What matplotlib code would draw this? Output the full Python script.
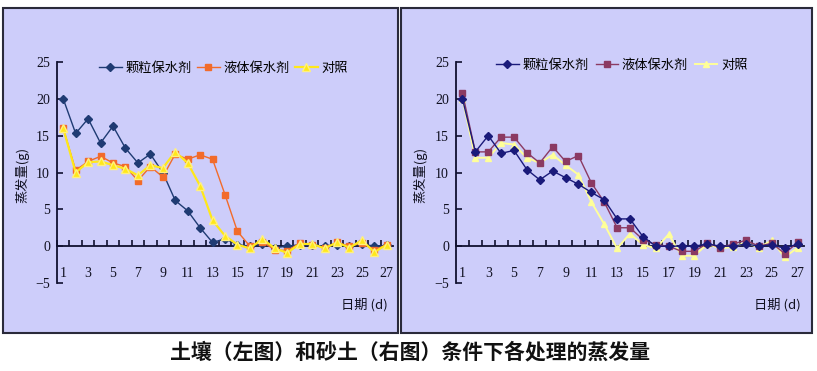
import matplotlib
matplotlib.use("Agg")
import matplotlib.pyplot as plt
from matplotlib.patches import Rectangle

plt.rcParams['font.family'] = ['Noto Sans CJK SC', 'DejaVu Sans']

days = list(range(1, 28))
day_labels = [str(d) for d in range(1, 28, 2)]
series_names = ["颗粒保水剂", "液体保水剂", "对照"]

# left: soil
soil_granular = [20.0, 15.3, 17.3, 14.0, 16.3, 13.3, 11.3, 12.5, 10.0, 6.2, 4.8, 2.5, 0.5, 1.0,
                 0.2, 0.0, 0.3, -0.2, 0.0, 0.2, 0.1, 0.0, 0.2, 0.0, 0.3, 0.0, 0.1]
soil_liquid = [16.0, 10.3, 11.5, 12.2, 11.3, 10.8, 8.9, 10.8, 9.4, 12.5, 11.8, 12.4, 11.8, 7.0,
               2.0, 0.0, 0.6, -0.5, -0.6, 0.4, 0.2, -0.2, 0.5, 0.0, 0.4, -0.5, 0.2]
soil_control = [16.0, 10.0, 11.4, 11.5, 11.0, 10.5, 9.6, 11.0, 10.6, 12.8, 11.3, 8.2, 3.5, 1.4,
                0.2, -0.3, 1.0, -0.3, -0.9, 0.3, 0.3, -0.3, 0.5, -0.2, 0.8, -0.8, 0.2]

# right: sand
sand_granular = [20.0, 12.8, 15.0, 12.6, 13.0, 10.4, 9.0, 10.2, 9.3, 8.4, 7.3, 6.3, 3.7, 3.7,
                 1.3, 0.0, 0.0, 0.0, 0.0, 0.3, 0.0, 0.0, 0.3, 0.0, 0.2, -0.3, 0.3]
sand_liquid = [20.8, 12.8, 12.8, 14.8, 14.8, 12.7, 11.3, 13.5, 11.5, 12.3, 8.6, 6.0, 2.5, 2.5,
               0.9, 0.2, 0.0, -0.7, -0.7, 0.4, -0.2, 0.3, 0.8, 0.0, 0.4, -1.0, 0.5]
sand_control = [20.0, 12.0, 12.0, 14.0, 13.8, 12.0, 11.3, 12.4, 11.0, 9.7, 6.0, 3.0, -0.3, 1.7,
                0.2, -0.3, 1.6, -1.3, -1.3, 0.3, -0.3, -0.1, 0.5, -0.2, 0.8, -1.5, -0.2]

W, H = 817, 371
bg = '#CDCDFA'
fig = plt.figure(figsize=(W / 100, H / 100), dpi=100)
fig.patch.set_facecolor('white')


def fx(px):
    return px / W


def fy(py):
    return 1 - py / H


# panel boxes
for x0, x1 in [(3, 398), (401, 812)]:
    fig.patches.append(Rectangle((fx(x0), fy(333)), fx(x1 - x0), (333 - 8) / H,
                                 transform=fig.transFigure, facecolor=bg,
                                 edgecolor='#2a2a3a', linewidth=1.5, zorder=-5))


def setup(ax, ylab_x, date_x):
    ax.set_facecolor('none')
    ax.set_zorder(2)
    ax.set_xlim(0.5, 27.5)
    ax.set_ylim(-5, 25)
    for s in ['top', 'right']:
        ax.spines[s].set_visible(False)
    ax.spines['bottom'].set_position(('data', 0))
    ax.spines['bottom'].set_color('#101030')
    ax.spines['left'].set_color('#101030')
    ax.spines['bottom'].set_linewidth(1.3)
    ax.spines['left'].set_linewidth(1.3)
    ax.set_yticks(range(-5, 26, 5))
    ax.set_xticks(range(1, 28, 2))
    ax.set_xticklabels(day_labels)
    ax.set_xticks([d + 0.5 for d in range(0, 27)], minor=True)
    ax.tick_params(axis='x', which='major', length=0, pad=15, labelsize=10)
    ax.tick_params(axis='x', which='minor', direction='in', length=4, width=1.2, color='#101030')
    ax.tick_params(axis='y', direction='in', length=4, width=1.2, color='#101030', pad=5, labelsize=10)
    for lab in ax.get_xticklabels() + ax.get_yticklabels():
        lab.set_family('Liberation Serif')
        lab.set_color('#101020')
    fig.text(fx(ylab_x), fy(175), "蒸发量(g)", rotation=90, ha='center', va='center',
             fontsize=9.5, color='#101020')
    fig.text(fx(date_x), fy(305), "日期 (d)", ha='center', va='center', fontsize=9.5,
             color='#101020')


# left chart
ax1 = fig.add_axes([fx(57), fy(283), fx(393 - 57), (283 - 62) / H])
setup(ax1, 22, 364)
ax1.plot(days, soil_granular, color='#1F3B73', marker='D', markersize=4, lw=1,
         label=series_names[0], zorder=3)
ax1.plot(days, soil_liquid, color='#F26B2A', marker='s', markersize=4.5, lw=1,
         label=series_names[1], zorder=4)
ax1.plot(days, soil_control, color='#FFE81A', marker='^', markersize=6, lw=1.6,
         markeredgecolor='#FFF080', label=series_names[2], zorder=5)
ax1.legend(loc='center left', bbox_to_anchor=(fx(94), fy(68)), bbox_transform=fig.transFigure,
           ncol=3, frameon=False, fontsize=9.5, handlelength=1.7, handletextpad=0.3,
           columnspacing=0.4, borderaxespad=0)

# right chart
ax2 = fig.add_axes([fx(456), fy(283), fx(804 - 456), (283 - 62) / H])
setup(ax2, 420, 777)
ax2.plot(days, sand_granular, color='#1A1A7A', marker='D', markersize=4, lw=1,
         label=series_names[0], zorder=5)
ax2.plot(days, sand_liquid, color='#8B3A62', marker='s', markersize=4.5, lw=1,
         label=series_names[1], zorder=4)
ax2.plot(days, sand_control, color='#FFFF99', marker='^', markersize=5, lw=1.4,
         label=series_names[2], zorder=3)
ax2.legend(loc='center left', bbox_to_anchor=(fx(491), fy(65)), bbox_transform=fig.transFigure,
           ncol=3, frameon=False, fontsize=9.5, handlelength=1.7, handletextpad=0.3,
           columnspacing=0.5, borderaxespad=0)

fig.text(fx(410), fy(352), "土壤（左图）和砂土（右图）条件下各处理的蒸发量", ha='center',
         va='center', fontsize=15, fontweight='bold', color='#111111')

plt.savefig("out.png", dpi=100)
